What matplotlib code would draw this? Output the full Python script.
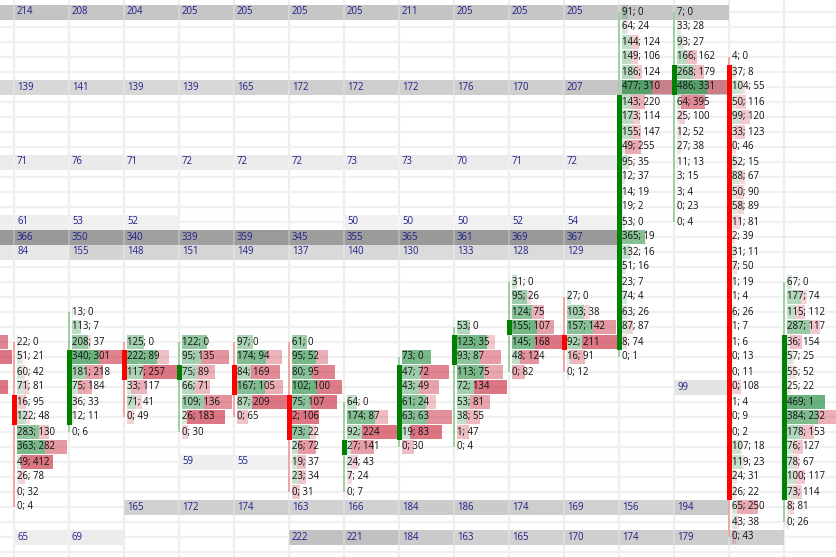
import matplotlib
matplotlib.use("Agg")
import matplotlib.pyplot as plt
from matplotlib.patches import Rectangle

# ---------------- data ----------------
# footprint columns: first price-level row (0 = top row) and bid / ask volumes per row
start_cm1 = 22
bid_cm1 = [120, 90, 150, 40]
ask_cm1 = [480, 560, 160, 560]

start_c0 = 22
bid_c0 = [22, 51, 60, 71, 16, 122, 283, 363, 49, 26, 0, 0]
ask_c0 = [0, 21, 42, 81, 95, 48, 130, 282, 412, 78, 32, 4]

start_c1 = 20
bid_c1 = [13, 113, 208, 340, 181, 75, 36, 12, 0]
ask_c1 = [0, 7, 37, 301, 218, 184, 33, 11, 6]

start_c2 = 22
bid_c2 = [125, 222, 117, 33, 71, 0]
ask_c2 = [0, 89, 257, 117, 41, 49]

start_c3 = 22
bid_c3 = [122, 95, 75, 66, 109, 26, 0]
ask_c3 = [0, 135, 89, 71, 136, 183, 30]

start_c4 = 22
bid_c4 = [97, 174, 84, 167, 87, 0]
ask_c4 = [0, 94, 169, 105, 209, 65]

start_c5 = 22
bid_c5 = [61, 95, 80, 102, 75, 2, 73, 26, 19, 23, 0]
ask_c5 = [0, 52, 95, 100, 107, 106, 22, 72, 37, 34, 31]

start_c6 = 26
bid_c6 = [64, 174, 92, 27, 24, 7, 0]
ask_c6 = [0, 87, 224, 141, 43, 24, 7]

start_c7 = 23
bid_c7 = [73, 47, 43, 61, 63, 19, 0]
ask_c7 = [0, 72, 49, 24, 63, 83, 30]

start_c8 = 21
bid_c8 = [53, 123, 93, 113, 72, 53, 38, 1, 0]
ask_c8 = [0, 35, 87, 75, 134, 81, 55, 47, 4]

start_c9 = 18
bid_c9 = [31, 95, 124, 155, 145, 48, 0]
ask_c9 = [0, 26, 75, 107, 168, 124, 82]

start_c10 = 19
bid_c10 = [27, 103, 157, 92, 16, 0]
ask_c10 = [0, 38, 142, 211, 91, 12]

start_c11 = 0
bid_c11 = [91, 64, 144, 149, 186, 477, 143, 173, 155, 49, 95, 12,
           14, 19, 53, 365, 132, 51, 23, 74, 63, 87, 8, 0]
ask_c11 = [0, 24, 124, 106, 124, 310, 220, 114, 147, 255, 35, 37,
           19, 2, 0, 19, 16, 16, 7, 4, 26, 87, 74, 1]

start_c12 = 0
bid_c12 = [7, 33, 93, 166, 268, 486, 64, 25, 12, 27, 11, 3, 3, 0, 0]
ask_c12 = [0, 28, 27, 162, 179, 331, 395, 100, 52, 38, 13, 15, 4, 23, 4]

start_c13 = 3
bid_c13 = [4, 37, 104, 50, 99, 33, 0, 52, 88, 50, 58, 11, 2, 31, 7, 1, 1,
           6, 1, 1, 0, 0, 0, 1, 0, 0, 107, 119, 24, 26, 65, 43, 0]
ask_c13 = [0, 8, 55, 116, 120, 123, 46, 15, 67, 90, 89, 81, 39, 11, 50, 19, 4,
           26, 7, 6, 13, 11, 108, 4, 9, 2, 18, 23, 31, 22, 250, 38, 43]

start_c14 = 18
bid_c14 = [67, 177, 115, 287, 36, 57, 55, 25, 469, 384, 178, 76, 78, 100, 73, 8, 0]
ask_c14 = [0, 74, 112, 117, 154, 25, 52, 22, 1, 232, 153, 127, 67, 117, 114, 81, 26]

# volume that fills a full bar width per column (None = column's largest row total)
bar_full_volume = [None] * 14 + [600, None]

# candles (column index -1 is off screen): rising flag and body rows (top, bottom)
candle_up = [None, False, True, False, True, False, False, True, True, True, True,
             False, True, True, False, True]
body_top = [None, 26, 23, 23, 24, 24, 26, 29, 24, 22, 21, 22, 6, 4, 4, 22]
body_bottom = [None, 27, 27, 24, 24, 25, 28, 29, 28, 23, 21, 22, 22, 5, 32, 32]

# horizontal level bands (values per column -1 .. 13, None = no band)
band_rows = [0, 5, 10, 14, 15, 16, 25, 30, 33, 35]
band_r0 = [210, 214, 208, 204, 205, 205, 205, 205, 211, 205, 205, 205, 205, 205, None]
band_r5 = [140, 139, 141, 139, 139, 165, 172, 172, 172, 176, 170, 207, 200, 200, None]
band_r10 = [71, 71, 76, 71, 72, 72, 72, 73, 73, 70, 71, 72, None, None, None]
band_r14 = [60, 61, 53, 52, None, None, None, 50, 50, 50, 52, 54, None, None, None]
band_r15 = [365, 366, 350, 340, 339, 359, 345, 355, 365, 361, 369, 367, None, None, None]
band_r16 = [84, 84, 155, 148, 151, 149, 137, 140, 130, 133, 128, 129, None, None, None]
band_r25 = [None] * 13 + [99, None]
band_r30 = [None, None, None, None, 59, 55, None, None, None, None, None, None, None, None, None]
band_r33 = [None, None, None, 165, 172, 174, 163, 166, 184, 186, 174, 169, 156, 194, None]
band_r35 = [None, 65, 69, None, None, None, 222, 221, 184, 163, 165, 170, 174, 179, 175]

# ---------------- layout ----------------
W, H, DPI = 836, 557, 100
COLW = 55.0     # px per column
ROWH = 15.0     # px per price row
X0 = 14.0       # px of column 0 boundary
Y0 = 12.0       # px of row 0 centre
PXX = 1.0 / COLW
BAR_PX = 50.0   # px of a full bar

fig = plt.figure(figsize=(W / DPI, H / DPI), dpi=DPI)
ax = fig.add_axes([0, 0, 1, 1])
ax.set_xlim(-X0 / COLW, (W - X0) / COLW)
ax.set_ylim((H - Y0) / ROWH, -Y0 / ROWH)
ax.axis("off")
fig.patch.set_facecolor("white")

FONT = "Open Sans"
FS = 6.9

columns = list(range(-1, 15))
starts = [start_cm1, start_c0, start_c1, start_c2, start_c3, start_c4, start_c5,
          start_c6, start_c7, start_c8, start_c9, start_c10, start_c11, start_c12,
          start_c13, start_c14]
bids = [bid_cm1, bid_c0, bid_c1, bid_c2, bid_c3, bid_c4, bid_c5, bid_c6, bid_c7,
        bid_c8, bid_c9, bid_c10, bid_c11, bid_c12, bid_c13, bid_c14]
asks = [ask_cm1, ask_c0, ask_c1, ask_c2, ask_c3, ask_c4, ask_c5, ask_c6, ask_c7,
        ask_c8, ask_c9, ask_c10, ask_c11, ask_c12, ask_c13, ask_c14]
bands = [band_r0, band_r5, band_r10, band_r14, band_r15, band_r16, band_r25,
         band_r30, band_r33, band_r35]

occupied = set()
for c, s, b in zip(columns, starts, bids):
    for i in range(len(b)):
        occupied.add((c, s + i))

# grid (lines pass through the price levels)
for c in range(-1, 16):
    ax.axvline(c, color="#eeeeee", lw=1.6, zorder=0)
for r in range(-1, 38):
    ax.axhline(r, color="#f0f0f0", lw=1.6, zorder=0)

# level bands
for r, vals in zip(band_rows, bands):
    for j, v in enumerate(vals):
        if v is None:
            continue
        c = j - 1
        g = max(0.0, min(1.0, (255 - 0.28 * v) / 255.0))
        ax.add_patch(Rectangle((c, r - 0.5), 1.0, 1.0, facecolor=(g, g, g),
                               edgecolor="none", zorder=1))
        ax.plot([c, c], [r - 0.5, r + 0.5], color="white", alpha=0.25, lw=1.4,
                zorder=1.5, solid_capstyle="butt")
        if c >= 0 and (c, r) not in occupied:
            ax.text(c + 3 * PXX, r, str(v), fontsize=FS, family=FONT,
                    color="#20208a", va="center", ha="left", zorder=5)

# footprint bars and text
GREEN = (0.13, 0.55, 0.24)
RED = (0.80, 0.20, 0.28)
for c, s, b, a, full in zip(columns, starts, bids, asks, bar_full_volume):
    cmax = max(max(b), max(a))
    max_tot = max(x + y for x, y in zip(b, a))
    ref = full if full is not None else max_tot
    imax = cmax * ref / max_tot        # intensity reference follows the bar scale
    for i, (bv, av) in enumerate(zip(b, a)):
        r = s + i
        tot = bv + av
        if tot > 0:
            L = BAR_PX * tot / ref
            gl = L * bv / tot * PXX
            rl = L * av / tot * PXX
            x = c + 3 * PXX
            if bv > 0:
                ax.add_patch(Rectangle((x, r - 0.46), gl, 0.92, facecolor=GREEN,
                                       alpha=0.12 + 0.55 * bv / imax,
                                       edgecolor="none", zorder=2))
            if av > 0:
                ax.add_patch(Rectangle((x + gl, r - 0.46), rl, 0.92, facecolor=RED,
                                       alpha=0.12 + 0.55 * av / imax,
                                       edgecolor="none", zorder=2))
        if c >= 0:
            ax.text(c + 3 * PXX, r, f"{bv}; {av}", fontsize=FS, family=FONT,
                    color="#111111", va="center", ha="left", zorder=5)

# candles
for c, s, b, up, bt, bb in zip(columns, starts, bids, candle_up, body_top, body_bottom):
    if up is None:
        continue
    hi, lo = s, s + len(b) - 1
    wick_col = "#9fd09f" if up else "#f6a5a5"
    body_col = "#008000" if up else "#ff0000"
    ax.add_patch(Rectangle((c - 1.0 * PXX, hi), 2.2 * PXX, lo - hi,
                           facecolor=wick_col, edgecolor="none", zorder=3))
    ax.add_patch(Rectangle((c - 2.0 * PXX, bt - 0.5), 5.0 * PXX, bb - bt + 1,
                           facecolor=body_col, edgecolor="none", zorder=4))

fig.savefig("out.png", dpi=DPI, facecolor="white")
